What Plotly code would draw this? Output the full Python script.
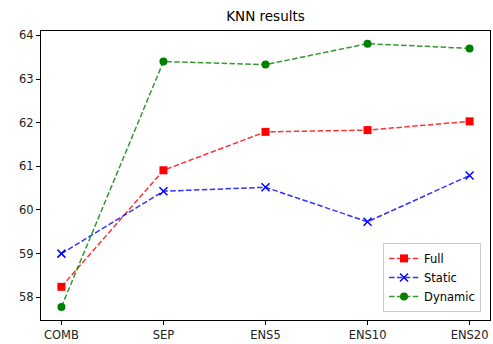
import plotly.graph_objects as go

categories = ["COMB", "SEP", "ENS5", "ENS10", "ENS20"]
full = [58.24, 60.91, 61.79, 61.83, 62.03]
static = [59.00, 60.43, 60.52, 59.73, 60.79]
dynamic = [57.78, 63.40, 63.33, 63.81, 63.70]
y_ticks = [58, 59, 60, 61, 62, 63, 64]

x_idx = list(range(len(categories)))
dash = "5.5px,2.4px"

fig = go.Figure()
fig.add_trace(go.Scatter(x=x_idx, y=full, name="Full", mode="lines+markers",
                         line=dict(color="rgba(255,0,0,0.8)", dash=dash, width=1.5),
                         marker=dict(symbol="square", size=8, color="#ff0000")))
fig.add_trace(go.Scatter(x=x_idx, y=static, name="Static", mode="lines+markers",
                         line=dict(color="rgba(0,0,255,0.8)", dash=dash, width=1.5),
                         marker=dict(symbol="x-thin", size=8, color="#0000ff",
                                     line=dict(color="#0000ff", width=1.5))))
fig.add_trace(go.Scatter(x=x_idx, y=dynamic, name="Dynamic", mode="lines+markers",
                         line=dict(color="rgba(0,128,0,0.8)", dash=dash, width=1.5),
                         marker=dict(symbol="circle", size=8, color="#008000")))

axis_common = dict(showgrid=False, zeroline=False, showline=True, linecolor="black",
                   linewidth=1, mirror=True, ticks="outside", ticklen=4, tickcolor="black",
                   tickfont=dict(family="DejaVu Sans", size=11.5, color="#222"))

fig.update_layout(
    width=493, height=344,
    margin=dict(l=41, r=3, t=31, b=24),
    paper_bgcolor="white", plot_bgcolor="white",
    title=dict(text="KNN results", x=(41 + 490) / 2 / 493, xanchor="center",
               y=1 - 16 / 344, yanchor="middle",
               font=dict(family="DejaVu Sans", size=13.5, color="black")),
    xaxis=dict(tickmode="array", tickvals=x_idx, ticktext=categories,
               range=[-0.2, 4.2], **axis_common),
    yaxis=dict(tickmode="array", tickvals=y_ticks, range=[57.48, 64.1], **axis_common),
    legend=dict(x=0.98, y=0.028, xanchor="right", yanchor="bottom",
                bgcolor="white", bordercolor="#cccccc", borderwidth=1,
                font=dict(family="DejaVu Sans", size=11.5, color="black"),
                itemwidth=30, tracegroupgap=0),
    showlegend=True,
)

fig.write_html("out.html", config={"displayModeBar": False},
               post_script="document.body.style.margin='0';document.body.style.padding='0';")
